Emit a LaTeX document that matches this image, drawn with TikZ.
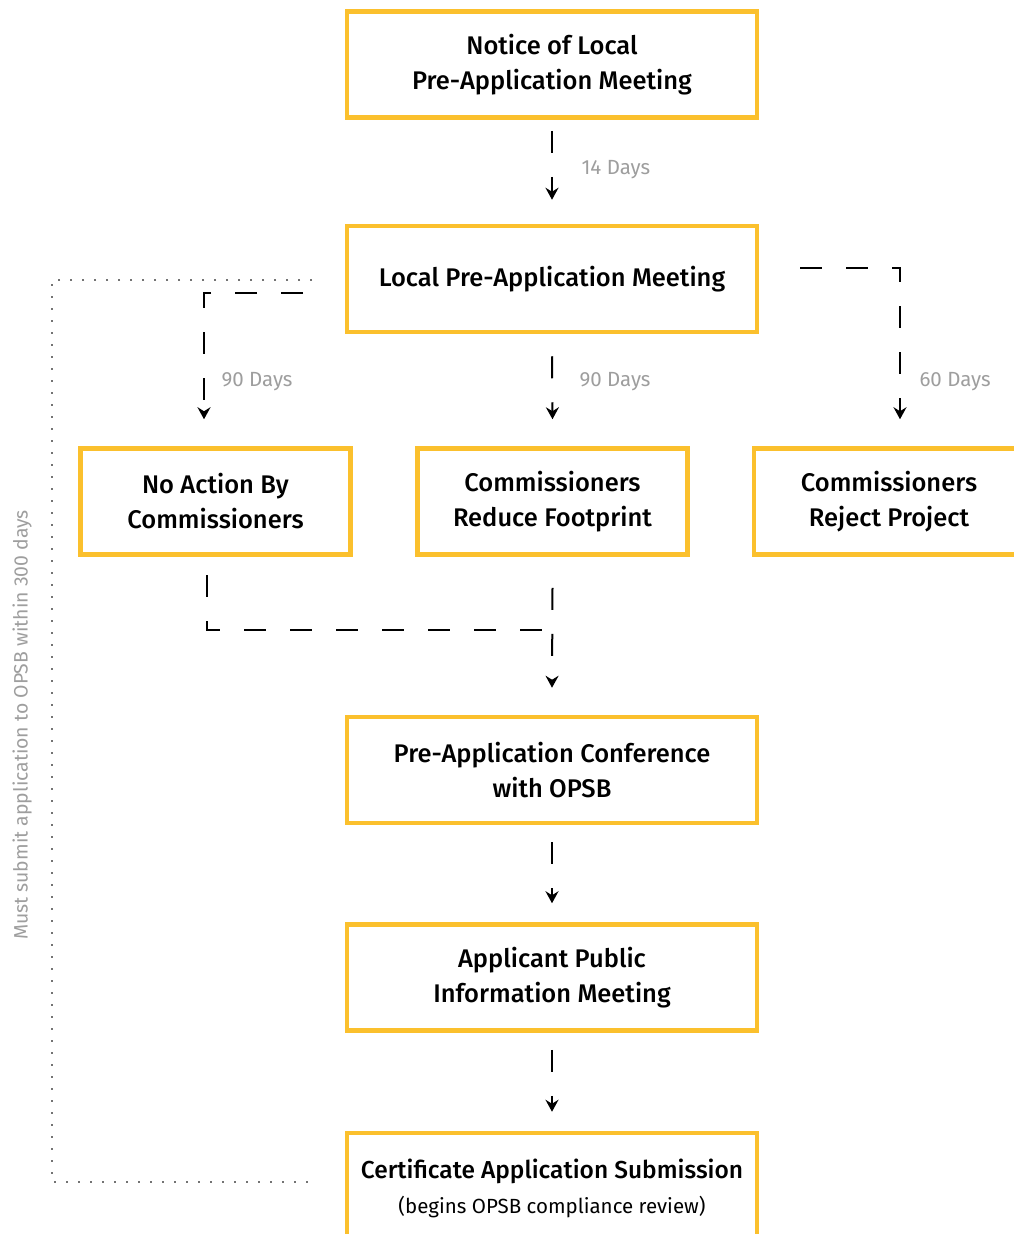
\documentclass[tikz,border=0pt]{standalone}
\usepackage{fontspec}
\setmainfont{Fira Sans}
\newfontfamily\boxfont{Fira Sans Medium}
\usetikzlibrary{arrows.meta}
\definecolor{boxyellow}{HTML}{FBC02D}
\definecolor{lblgray}{gray}{0.62}
\begin{document}
\begin{tikzpicture}[x=1pt,y=-1pt,
  stepbox/.style={draw=boxyellow,line width=4.5pt,fill=white,minimum width=410pt,minimum height=106pt,
     align=center,font=\boxfont\fontsize{25.5}{35}\selectfont,inner sep=0pt},
  sidebox/.style={stepbox,minimum width=270pt},
  conn/.style={line width=2pt,dash pattern=on 22pt off 24pt,-{Stealth[length=12pt,width=13pt,inset=4pt]}},
  connplain/.style={line width=2pt,dash pattern=on 22pt off 24pt},
  dotline/.style={line width=1.4pt,black!55,dash pattern=on 2pt off 10pt},
  lbl/.style={text=lblgray,font=\fontsize{20.5}{24}\selectfont,anchor=west},
  vlbl/.style={text=lblgray,font=\fontsize{19.4}{22}\selectfont,rotate=90}]
\useasboundingbox (0,0) rectangle (1013,1234);
\fill[white] (0,0) rectangle (1013,1234);

% dotted bracket
\coordinate (d0) at (312,280);
\coordinate (d1) at (52,280);
\coordinate (d2) at (52,1182);
\coordinate (d3) at (316,1182);
\draw[dotline] (d0) -- (d1) -- (d2) -- (d3);
\node[vlbl] (vt) at (22,725) {Must submit application to OPSB within 300 days};

% boxes
\node[stepbox] (b1) at (552,64.5) {Notice of Local\\Pre-Application Meeting};
\node[stepbox] (b2) at (552,279) {Local Pre-Application Meeting};
\node[sidebox] (b3) at (215.5,501.5) {No Action By\\Commissioners};
\node[sidebox] (b4) at (552.5,501.5) {Commissioners\\Reduce Footprint};
\node[sidebox] (b5) at (889,501.5) {Commissioners\\Reject Project};
\node[stepbox] (b6) at (552,770) {Pre-Application Conference\\with OPSB};
\node[stepbox] (b7) at (552,977.5) {Applicant Public\\Information Meeting};
\node[stepbox,minimum height=110pt] (b8) at (552,1188) {{\fontsize{24.5}{35}\selectfont Certificate Application Submission}\\{\normalfont\fontsize{20.5}{28}\selectfont(begins OPSB compliance review)}};

% connectors
\draw[conn] ([yshift=-11pt]b1.south) -- ([yshift=24pt]b2.north);
\node[lbl] (t1) at (578,170) {14 Days};

\coordinate (l0) at (303,293);
\coordinate (l1) at (204,293);
\coordinate (a3) at ([yshift=27pt]b3.north);
\draw[conn] (l0) -- (l1) -- (l1 |- a3);
\node[lbl] (t2) at (218,382) {90 Days};

\draw[conn] ([yshift=-22pt]b2.south) -- ([yshift=27pt]b4.north);
\node[lbl] (t3) at (576,382) {90 Days};

\coordinate (r0) at (800,268);
\coordinate (r1) at (900,268);
\coordinate (a5) at ([yshift=27pt]b5.north);
\draw[conn] (r0) -- (r1) -- (r1 |- a5);
\node[lbl] (t4) at (916,382) {60 Days};

\coordinate (m0) at (207,575);
\coordinate (m1) at (207,630);
\coordinate (m2) at (552,630);
\draw[connplain] (m0) -- (m1) -- (m2);
\draw[conn] ([yshift=-31pt]b4.south) -- ([yshift=27pt]b6.north);

\draw[conn] ([yshift=-17pt]b6.south) -- ([yshift=19pt]b7.north);
\draw[conn] ([yshift=-17pt]b7.south) -- ([yshift=19pt]b8.north);
\end{tikzpicture}
\end{document}
